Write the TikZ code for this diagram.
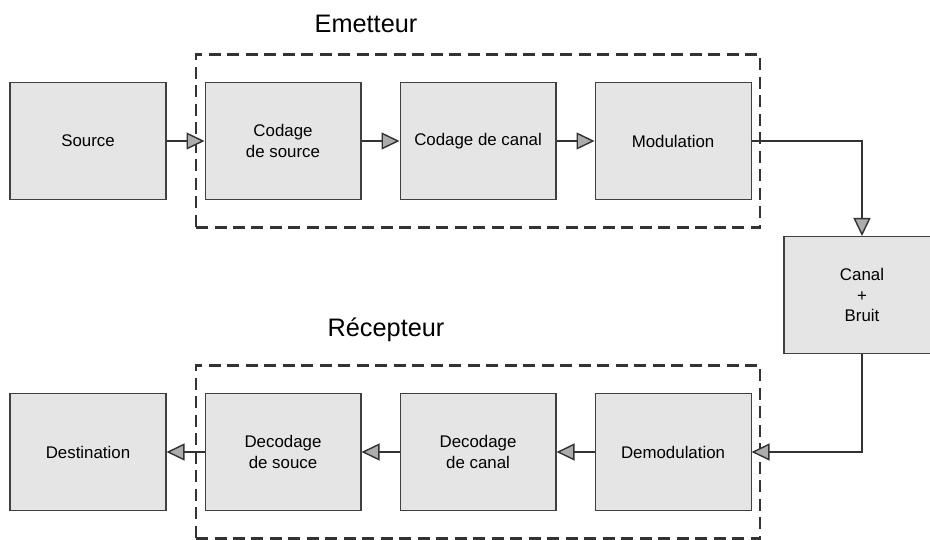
\documentclass[tikz,border=0pt]{standalone}
\usepackage{fontspec}
\setmainfont{Liberation Sans}
\usetikzlibrary{arrows.meta,positioning,fit}

\begin{document}
\begin{tikzpicture}[x=0.02cm,y=-0.02cm,
  bloc/.style={draw=black!75, line width=0.6pt, fill=gray!20, minimum width=3.12cm, minimum height=2.34cm, align=center, font=\fontsize{9.6}{11.6}\selectfont, inner sep=2pt},
  groupe/.style={draw=black!80, line width=1.2pt, dash pattern=on 0.24cm off 0.13cm, inner xsep=0.17cm, inner ysep=0.55cm},
  titre/.style={anchor=base, font=\fontsize{14.4}{17}\selectfont},
  fleche/.style={line width=1.5pt, draw=black!80, -{Triangle[length=0.36cm,width=0.34cm,fill=gray!65,line width=0.8pt]}}]
        \useasboundingbox (0,0) rectangle (930,540);
        % emission
        \node[bloc] (src) at (88,141) {Source};
        \node[bloc, right = 0.76cm of src] (cs) {Codage\\de source};
        \node[bloc, right = 0.76cm of cs] (cc) {Codage de canal};
        \node[bloc, right = 0.76cm of cc] (mod) {Modulation};
        % canal
        \node[bloc] (canal) at (862,295) {Canal\\+\\Bruit};
        % reception
        \node[bloc, below = 3.86cm of mod] (dem) {Demodulation};
        \node[bloc, left = 0.76cm of dem] (dc) {Decodage\\de canal};
        \node[bloc, left = 0.76cm of dc] (ds) {Decodage\\de souce};
        \node[bloc, left = 0.76cm of ds] (dst) {Destination};
        % blocs en pointilles
        \node[groupe, fit=(cs) (mod)] (emet) {};
        \node[groupe, fit=(ds) (dem)] (recep) {};
        \node[titre] (temet) at (366,33) {Emetteur};
        \node[titre] (trecep) at (386,337) {Récepteur};

        \draw [fleche] (src) -- (cs);
        \draw [fleche] (cs) -- (cc);
        \draw [fleche] (cc) -- (mod);
        \draw [fleche] (mod.east) -| (canal.north);
        \draw [fleche] (canal.south) |- (dem.east);
        \draw [fleche] (dem) -- (dc);
        \draw [fleche] (dc) -- (ds);
        \draw [fleche] (ds) -- (dst);
\end{tikzpicture}
\end{document}
